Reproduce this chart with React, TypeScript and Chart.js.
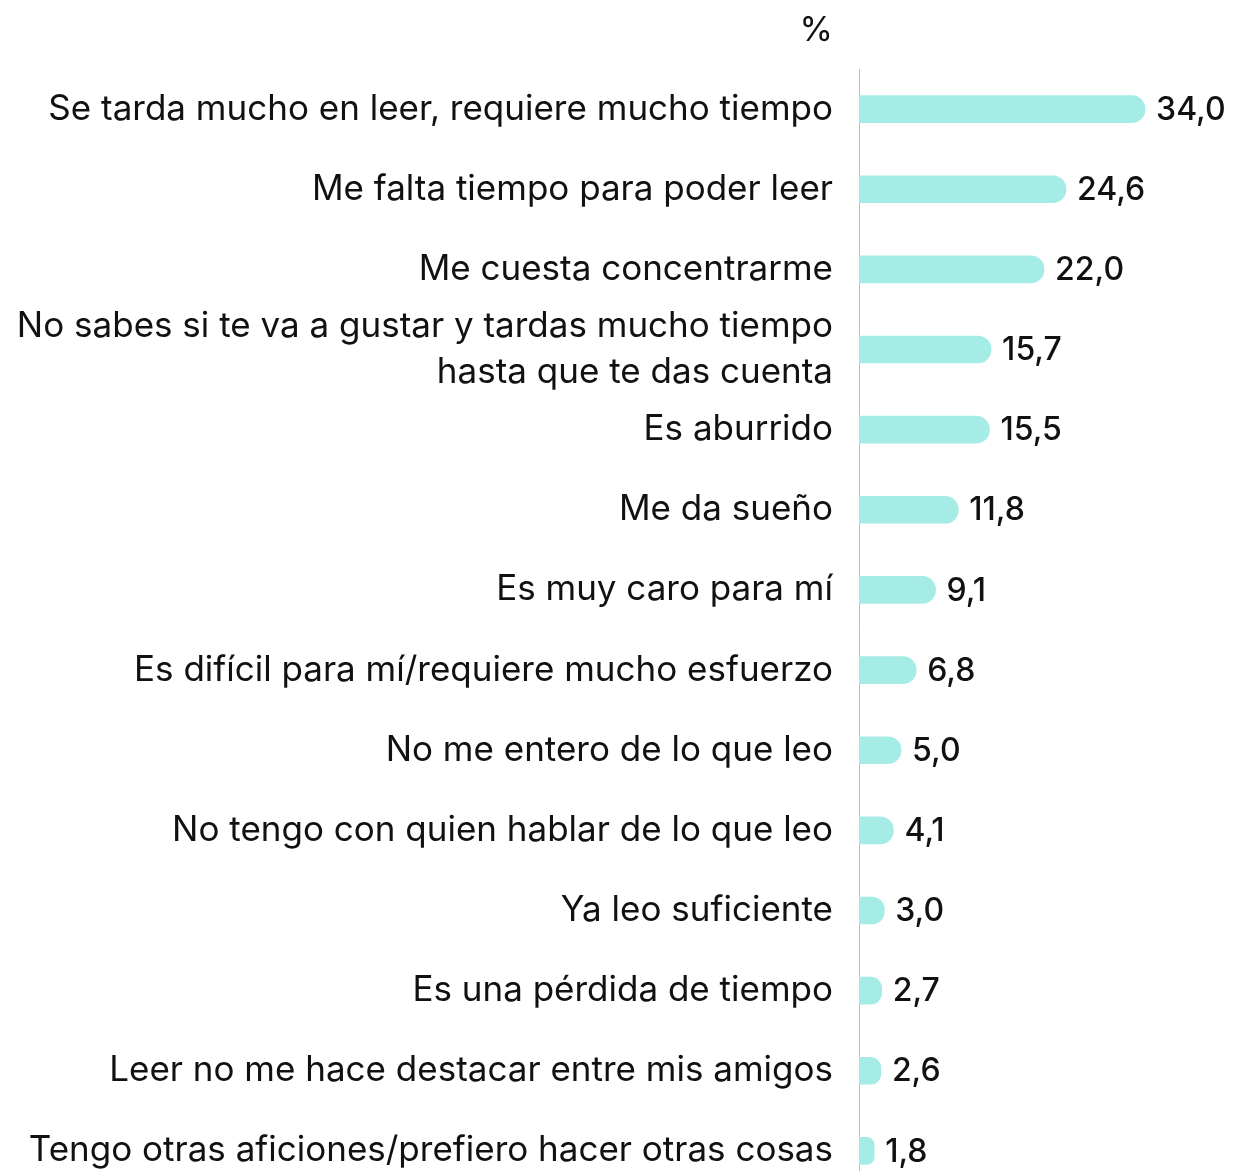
import React, { useEffect, useRef } from "react";
import { Chart, registerables } from "chart.js";

Chart.register(...registerables);

const categories: (string | string[])[] = [
  "Se tarda mucho en leer, requiere mucho tiempo",
  "Me falta tiempo para poder leer",
  "Me cuesta concentrarme",
  ["No sabes si te va a gustar y tardas mucho tiempo", "hasta que te das cuenta"],
  "Es aburrido",
  "Me da sueño",
  "Es muy caro para mí",
  "Es difícil para mí/requiere mucho esfuerzo",
  "No me entero de lo que leo",
  "No tengo con quien hablar de lo que leo",
  "Ya leo suficiente",
  "Es una pérdida de tiempo",
  "Leer no me hace destacar entre mis amigos",
  "Tengo otras aficiones/prefiero hacer otras cosas",
];

const values: number[] = [34.0, 24.6, 22.0, 15.7, 15.5, 11.8, 9.1, 6.8, 5.0, 4.1, 3.0, 2.7, 2.6, 1.8];

const unitLabel = "%";

const FONT = "Inter, 'Noto Sans', sans-serif";

export default function App() {
  const ref = useRef<HTMLCanvasElement | null>(null);

  useEffect(() => {
    if (!ref.current) return;
    const valuePlugin = {
      id: "valueLabels",
      afterDatasetsDraw(chart: any) {
        const { ctx } = chart;
        const meta = chart.getDatasetMeta(0);
        ctx.save();
        ctx.font = `500 32px ${FONT}`;
        ctx.fillStyle = "#111";
        ctx.textAlign = "left";
        ctx.textBaseline = "middle";
        meta.data.forEach((bar: any, i: number) => {
          const txt = values[i].toFixed(1).replace(".", ",");
          ctx.fillText(txt, bar.x + 11, bar.y + 1);
        });
        // unit label
        ctx.font = `400 34px ${FONT}`;
        ctx.textAlign = "right";
        ctx.fillText(unitLabel, chart.chartArea.left - 26, 31);
        ctx.restore();
      },
    };

    const chart = new Chart(ref.current, {
      type: "bar",
      data: {
        labels: categories,
        datasets: [
          {
            data: values,
            backgroundColor: "#a5ebe6",
            barThickness: 27,
            borderRadius: 14,
            borderSkipped: "start",
          },
        ],
      },
      options: {
        indexAxis: "y",
        animation: false,
        responsive: false,
        layout: { padding: { top: 69, right: 0, bottom: 0, left: 0 } },
        plugins: { legend: { display: false }, tooltip: { enabled: false } },
        scales: {
          x: { display: false, min: 0, max: 45.4 },
          y: {
            afterFit(scale: any) {
              scale.width = 859;
              scale.paddingTop = 0;
              scale.paddingBottom = 0;
            },
            grid: { display: false, drawTicks: false },
            border: { display: true, color: "#bdbdbd", width: 1 },
            ticks: {
              color: "#111",
              padding: 26,
              autoSkip: false,
              font: { family: FONT, size: 35, weight: "400", lineHeight: 1.32 },
            },
          },
        },
      },
      plugins: [valuePlugin],
    });
    return () => chart.destroy();
  }, []);

  return (
    <div style={{ position: "absolute", top: 0, left: 0, width: 1241, height: 1191, background: "#fff" }}>
      <canvas ref={ref} width={1241} height={1191} style={{ display: "block" }} />
    </div>
  );
}
